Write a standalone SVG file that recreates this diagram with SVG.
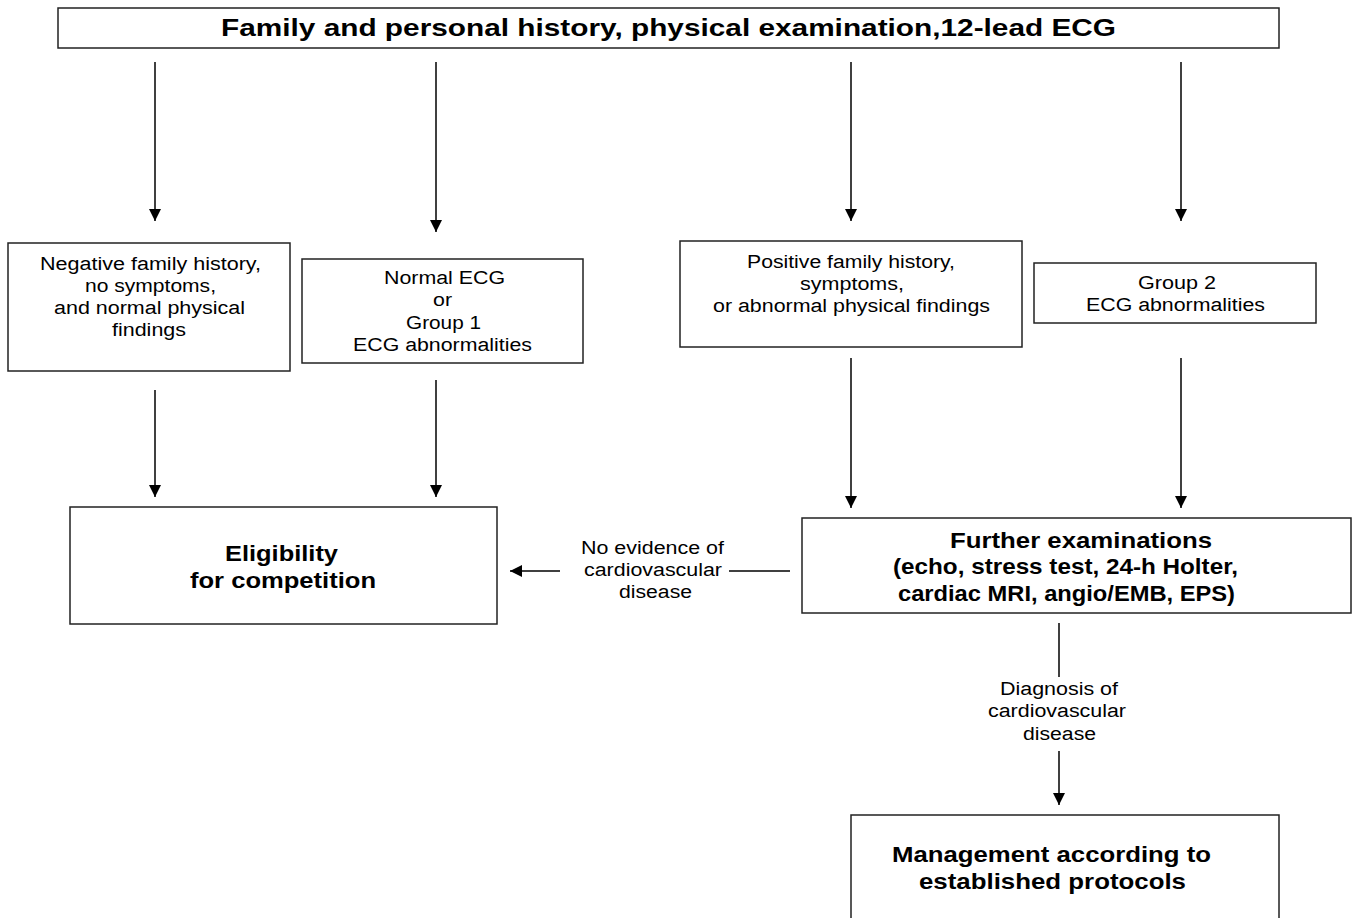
<svg xmlns="http://www.w3.org/2000/svg" width="1360" height="918" viewBox="0 0 1360 918">
<defs>
<marker id="ah" markerUnits="userSpaceOnUse" markerWidth="14" markerHeight="14" refX="12" refY="6" orient="auto">
<path d="M0,0 L12,6 L0,12 Z" fill="#000"/>
</marker>
<style>
.box{fill:#fff;stroke:#222;stroke-width:1.5}
.t{font-family:"Liberation Sans",Arial,sans-serif;font-size:18px;fill:#000;text-anchor:middle}
.b{font-family:"Liberation Sans",Arial,sans-serif;font-size:22px;font-weight:bold;fill:#000;text-anchor:middle}
.c{stroke:#000;stroke-width:1.5;fill:none}
.a{marker-end:url(#ah)}
</style>
</defs>
<rect width="1360" height="918" fill="#fff"/>
<g id="connectors">
<line class="c a" x1="155" y1="62" x2="155" y2="221"/>
<line class="c a" x1="436" y1="62" x2="436" y2="232"/>
<line class="c a" x1="851" y1="62" x2="851" y2="221"/>
<line class="c a" x1="1181" y1="62" x2="1181" y2="221"/>
<line class="c a" x1="155" y1="390" x2="155" y2="497"/>
<line class="c a" x1="436" y1="380" x2="436" y2="497"/>
<line class="c a" x1="851" y1="358" x2="851" y2="508"/>
<line class="c a" x1="1181" y1="358" x2="1181" y2="508"/>
<line class="c" x1="790" y1="571" x2="729" y2="571"/>
<line class="c a" x1="560" y1="571" x2="510" y2="571"/>
<text class="t" x="652.5" y="554" textLength="143" lengthAdjust="spacingAndGlyphs">No evidence of</text>
<text class="t" x="653" y="576" textLength="138" lengthAdjust="spacingAndGlyphs">cardiovascular</text>
<text class="t" x="655.5" y="598" textLength="73" lengthAdjust="spacingAndGlyphs">disease</text>
<line class="c" x1="1059" y1="623" x2="1059" y2="677"/>
<line class="c a" x1="1059" y1="751" x2="1059" y2="805"/>
<text class="t" x="1059" y="695" textLength="118" lengthAdjust="spacingAndGlyphs">Diagnosis of</text>
<text class="t" x="1057" y="717" textLength="138" lengthAdjust="spacingAndGlyphs">cardiovascular</text>
<text class="t" x="1059.5" y="740" textLength="73" lengthAdjust="spacingAndGlyphs">disease</text>
</g>
<g id="top">
<rect class="box" x="58" y="8" width="1221" height="40"/>
<text class="b" x="668.5" y="36" style="font-size:24px" textLength="895" lengthAdjust="spacingAndGlyphs">Family and personal history, physical examination,12-lead ECG</text>
</g>
<g id="negative">
<rect class="box" x="8" y="243" width="282" height="128"/>
<text class="t" x="150.5" y="270" textLength="221" lengthAdjust="spacingAndGlyphs">Negative family history,</text>
<text class="t" x="150.5" y="292" textLength="131" lengthAdjust="spacingAndGlyphs">no symptoms,</text>
<text class="t" x="149.5" y="314" textLength="191" lengthAdjust="spacingAndGlyphs">and normal physical</text>
<text class="t" x="149" y="336" textLength="74" lengthAdjust="spacingAndGlyphs">findings</text>
</g>
<g id="normal-ecg">
<rect class="box" x="302" y="259" width="281" height="104"/>
<text class="t" x="444.5" y="284" textLength="121" lengthAdjust="spacingAndGlyphs">Normal ECG</text>
<text class="t" x="442.5" y="306" textLength="19" lengthAdjust="spacingAndGlyphs">or</text>
<text class="t" x="443.5" y="329" textLength="75" lengthAdjust="spacingAndGlyphs">Group 1</text>
<text class="t" x="442.5" y="351" textLength="179" lengthAdjust="spacingAndGlyphs">ECG abnormalities</text>
</g>
<g id="positive">
<rect class="box" x="680" y="241" width="342" height="106"/>
<text class="t" x="851" y="268" textLength="208" lengthAdjust="spacingAndGlyphs">Positive family history,</text>
<text class="t" x="852" y="290" textLength="104" lengthAdjust="spacingAndGlyphs">symptoms,</text>
<text class="t" x="851.5" y="312" textLength="277" lengthAdjust="spacingAndGlyphs">or abnormal physical findings</text>
</g>
<g id="group2">
<rect class="box" x="1034" y="263" width="282" height="60"/>
<text class="t" x="1177" y="289" textLength="78" lengthAdjust="spacingAndGlyphs">Group 2</text>
<text class="t" x="1175.5" y="311" textLength="179" lengthAdjust="spacingAndGlyphs">ECG abnormalities</text>
</g>
<g id="eligibility">
<rect class="box" x="70" y="507" width="427" height="117"/>
<text class="b" x="281.5" y="561" textLength="113" lengthAdjust="spacingAndGlyphs">Eligibility</text>
<text class="b" x="283" y="588" textLength="186" lengthAdjust="spacingAndGlyphs">for competition</text>
</g>
<g id="further">
<rect class="box" x="802" y="518" width="549" height="95"/>
<text class="b" x="1081" y="548" textLength="262" lengthAdjust="spacingAndGlyphs">Further examinations</text>
<text class="b" x="1065.5" y="574" textLength="345" lengthAdjust="spacingAndGlyphs">(echo, stress test, 24-h Holter,</text>
<text class="b" x="1066.5" y="601" textLength="337" lengthAdjust="spacingAndGlyphs">cardiac MRI, angio/EMB, EPS)</text>
</g>
<g id="management">
<rect class="box" x="851" y="815" width="428" height="120"/>
<text class="b" x="1051.5" y="862" textLength="319" lengthAdjust="spacingAndGlyphs">Management according to</text>
<text class="b" x="1052.5" y="889" textLength="267" lengthAdjust="spacingAndGlyphs">established protocols</text>
</g>
</svg>
